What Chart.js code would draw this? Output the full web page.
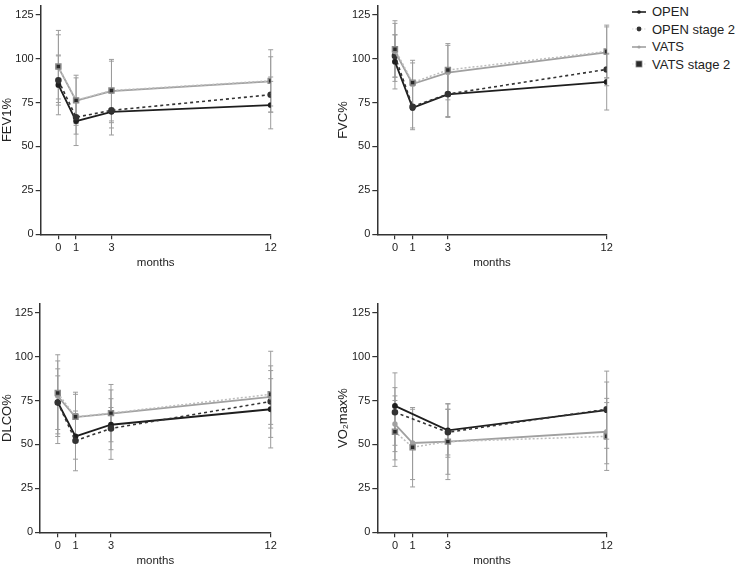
<!DOCTYPE html>
<html><head><meta charset="utf-8">
<script src="https://cdn.jsdelivr.net/npm/chart.js@4.4.1/dist/chart.umd.min.js"></script>
<style>
html,body{margin:0;padding:0;background:#fff;width:742px;height:566px;overflow:hidden;position:relative;}
canvas{position:absolute;}
#legend{position:absolute;left:629px;top:3.3px;font-family:"Liberation Sans",Arial,sans-serif;font-size:13px;color:#222;}
.item{height:17.4px;display:flex;align-items:center;white-space:nowrap;}
.item svg{margin-right:3px;flex:none;}
</style></head><body>
<canvas id="c1" width="290" height="270" style="left:0px;top:0px"></canvas>
<canvas id="c2" width="290" height="270" style="left:336px;top:0px"></canvas>
<canvas id="c3" width="290" height="270" style="left:0px;top:298px"></canvas>
<canvas id="c4" width="290" height="270" style="left:336px;top:298px"></canvas>
<div id="legend">
  <div class="item"><svg width="20" height="10"><line x1="3" y1="5" x2="17" y2="5" stroke="#1e1e1e" stroke-width="1.6"/><circle cx="10" cy="5" r="1.8" fill="#1e1e1e"/></svg><span>OPEN</span></div>
  <div class="item"><svg width="20" height="10"><line x1="3" y1="5" x2="17" y2="5" stroke="#d8d8d8" stroke-width="1.2" stroke-dasharray="1.5,1.5"/><circle cx="10" cy="5" r="2.4" fill="#333"/></svg><span>OPEN stage 2</span></div>
  <div class="item"><svg width="20" height="10"><line x1="3" y1="5" x2="17" y2="5" stroke="#a0a0a0" stroke-width="1.6"/><circle cx="10" cy="5" r="1.6" fill="#a0a0a0"/></svg><span>VATS</span></div>
  <div class="item"><svg width="20" height="10"><line x1="3" y1="5" x2="17" y2="5" stroke="#e0e0e0" stroke-width="1.2" stroke-dasharray="1.5,1.5"/><rect x="7" y="2" width="6" height="6" fill="#2a2a2a" stroke="#888" stroke-width="0.8"/></svg><span>VATS stage 2</span></div>
</div>
<script>
// ---- data ----
const months = [0, 1, 3, 12];
const yTicks = [0, 25, 50, 75, 100, 125];
const seriesNames = ['OPEN', 'OPEN stage 2', 'VATS', 'VATS stage 2'];

// FEV1%
const fev1Open     = [85, 64.4, 69.7, 73.5];
const fev1OpenBars = [[68, 102], [50.5, 77.5], [56.5, 82.5], [60, 87]];
const fev1OpenS2     = [87.6, 66.6, 70.5, 79.4];
const fev1OpenS2Bars = [[73.5, 101.5], [57, 76], [60.5, 80.5], [69.5, 89.5]];
const fev1Vats     = [95, 76, 81.5, 87];
const fev1VatsBars = [[77, 113.5], [63, 89], [64.5, 98.5], [73, 101]];
const fev1VatsS2     = [95.5, 76.2, 81.8, 87.3];
const fev1VatsS2Bars = [[75, 116], [62, 90.5], [63.5, 99.5], [69.5, 105]];

// FVC%
const fvcOpen     = [98.2, 71.9, 79.6, 86.7];
const fvcOpenBars = [[82.7, 113.5], [59.5, 84.5], [66.5, 92.5], [70.7, 102.5]];
const fvcOpenS2     = [101.5, 72.6, 79.8, 93.8];
const fvcOpenS2Bars = [[89.5, 113.5], [60.5, 84.5], [67, 92.5], [84.5, 103]];
const fvcVats     = [104, 85.5, 92, 103.5];
const fvcVatsBars = [[87, 120], [73.5, 97.5], [76.5, 107.5], [89, 118]];
const fvcVatsS2     = [105.3, 86.3, 93.5, 104];
const fvcVatsS2Bars = [[89.3, 121.5], [73.5, 99], [78.5, 108.5], [89, 119]];

// DLCO%
const dlcoOpen     = [74, 54.6, 61.2, 70];
const dlcoOpenBars = [[50.5, 93], [41.6, 67.6], [41.5, 81], [48, 92]];
const dlcoOpenS2     = [73.8, 52.1, 59.1, 74.4];
const dlcoOpenS2Bars = [[58.5, 89], [35, 69], [47, 71], [61.4, 87.4]];
const dlcoVats     = [77.5, 65.5, 67.5, 77];
const dlcoVatsBars = [[54.5, 97.5], [52.5, 78.5], [59, 76], [59.3, 94.7]];
const dlcoVatsS2     = [79.2, 65.7, 67.8, 78.5];
const dlcoVatsS2Bars = [[56, 101], [51.7, 79.7], [51.5, 84.1], [54, 103]];

// VO2max%
const vo2Open     = [71.9, null, 58, 69.5];
const vo2OpenBars = [[49.5, 90.7], null, [42.7, 73.2], [47.8, 91.7]];
const vo2OpenS2     = [68.3, null, 56.9, 70];
const vo2OpenS2Bars = [[45.9, 82.3], null, [44, 70], [53, 85.5]];
const vo2Vats     = [61.6, 50.8, 51.6, 57.2];
const vo2VatsBars = [[41.2, 77.6], [30, 70], [33, 70], [39, 76.2]];
const vo2VatsS2     = [57.2, 48.4, 51.6, 54.6];
const vo2VatsS2Bars = [[37.5, 75], [25.8, 71], [30, 73], [35.2, 73.8]];

// ---- rendering ----
const FONT = '"Liberation Sans", Arial, sans-serif';

const styles = [
  {borderColor: '#1e1e1e', borderWidth: 1.8, borderDash: [], pointStyle: 'circle', pointRadius: 2, pointBackgroundColor: '#1e1e1e', pointBorderColor: '#1e1e1e'},
  {borderColor: '#333333', borderWidth: 1.6, borderDash: [3, 3], pointStyle: 'circle', pointRadius: 2.5, pointBackgroundColor: '#333333', pointBorderColor: '#333333'},
  {borderColor: '#a0a0a0', borderWidth: 1.8, borderDash: [], pointStyle: 'circle', pointRadius: 1.8, pointBackgroundColor: '#a0a0a0', pointBorderColor: '#a0a0a0'},
  {borderColor: '#bdbdbd', borderWidth: 1.5, borderDash: [2, 2], pointStyle: 'rect', pointRadius: 3.5, pointBackgroundColor: '#2a2a2a', pointBorderColor: '#8a8a8a'}
];

const errorBars = {
  id: 'errorBars',
  beforeDatasetsDraw(chart) {
    const {ctx, scales: {x, y}} = chart;
    ctx.save();
    ctx.strokeStyle = '#9c9c9c';
    ctx.lineWidth = 1;
    chart.data.datasets.forEach(ds => {
      (ds.bars || []).forEach((b, i) => {
        if (!b) return;
        const px = x.getPixelForValue(months[i]);
        const y0 = y.getPixelForValue(b[0]);
        const y1 = y.getPixelForValue(b[1]);
        ctx.beginPath();
        ctx.moveTo(px, y0); ctx.lineTo(px, y1);
        ctx.moveTo(px - 2.5, y0); ctx.lineTo(px + 2.5, y0);
        ctx.moveTo(px - 2.5, y1); ctx.lineTo(px + 2.5, y1);
        ctx.stroke();
      });
    });
    ctx.restore();
  }
};

function makeChart(id, yTitle, vals, bars, yWidth, padTop) {
  const datasets = vals.map((v, k) => Object.assign({
    label: seriesNames[k],
    data: months.map((m, i) => ({x: m, y: v[i]})),
    bars: bars[k],
    spanGaps: true,
    fill: false,
    tension: 0
  }, styles[k])).reverse();
  new Chart(document.getElementById(id), {
    type: 'line',
    data: {datasets},
    plugins: [errorBars],
    options: {
      responsive: false,
      animation: false,
      devicePixelRatio: 1,
      layout: {padding: {left: 0, top: padTop, right: 19.3, bottom: 0}},
      plugins: {legend: {display: false}, tooltip: {enabled: false}},
      scales: {
        x: {
          type: 'linear', min: -1, max: 12,
          afterBuildTicks: s => { s.ticks = months.map(v => ({value: v})); },
          afterFit: s => { s.height = 35.7; s.paddingLeft = 0; s.paddingRight = 0; s.paddingTop = 0; s.paddingBottom = 0; },
          ticks: {autoSkip: false, maxRotation: 0, padding: 2, color: '#222', font: {family: FONT, size: 11}},
          grid: {display: true, drawOnChartArea: false, drawTicks: true, tickLength: 5, color: '#333', lineWidth: 1.2},
          border: {display: true, color: '#333', width: 1.5},
          title: {display: true, text: 'months', color: '#222', padding: 0, font: {family: FONT, size: 11.5}}
        },
        y: {
          type: 'linear', min: 0, max: 130,
          afterBuildTicks: s => { s.ticks = yTicks.map(v => ({value: v})); },
          afterFit: s => { s.width = yWidth; s.paddingLeft = 0; s.paddingRight = 0; s.paddingTop = 0; s.paddingBottom = 0; },
          ticks: {padding: 2, color: '#222', font: {family: FONT, size: 11}},
          grid: {display: true, drawOnChartArea: false, drawTicks: true, tickLength: 5, color: '#333', lineWidth: 1.2},
          border: {display: true, color: '#333', width: 1.5},
          title: {display: true, text: yTitle, color: '#222', padding: 0, font: {family: FONT, size: 13}}
        }
      }
    }
  });
}

makeChart('c1', 'FEV1%',
  [fev1Open, fev1OpenS2, fev1Vats, fev1VatsS2],
  [fev1OpenBars, fev1OpenS2Bars, fev1VatsBars, fev1VatsS2Bars], 40.7, 4);
makeChart('c2', 'FVC%',
  [fvcOpen, fvcOpenS2, fvcVats, fvcVatsS2],
  [fvcOpenBars, fvcOpenS2Bars, fvcVatsBars, fvcVatsS2Bars], 41.3, 4);
makeChart('c3', 'DLCO%',
  [dlcoOpen, dlcoOpenS2, dlcoVats, dlcoVatsS2],
  [dlcoOpenBars, dlcoOpenS2Bars, dlcoVatsBars, dlcoVatsS2Bars], 40, 4.2);
makeChart('c4', 'VO\u2082max%',
  [vo2Open, vo2OpenS2, vo2Vats, vo2VatsS2],
  [vo2OpenBars, vo2OpenS2Bars, vo2VatsBars, vo2VatsS2Bars], 41.3, 4.2);
</script>
</body></html>
